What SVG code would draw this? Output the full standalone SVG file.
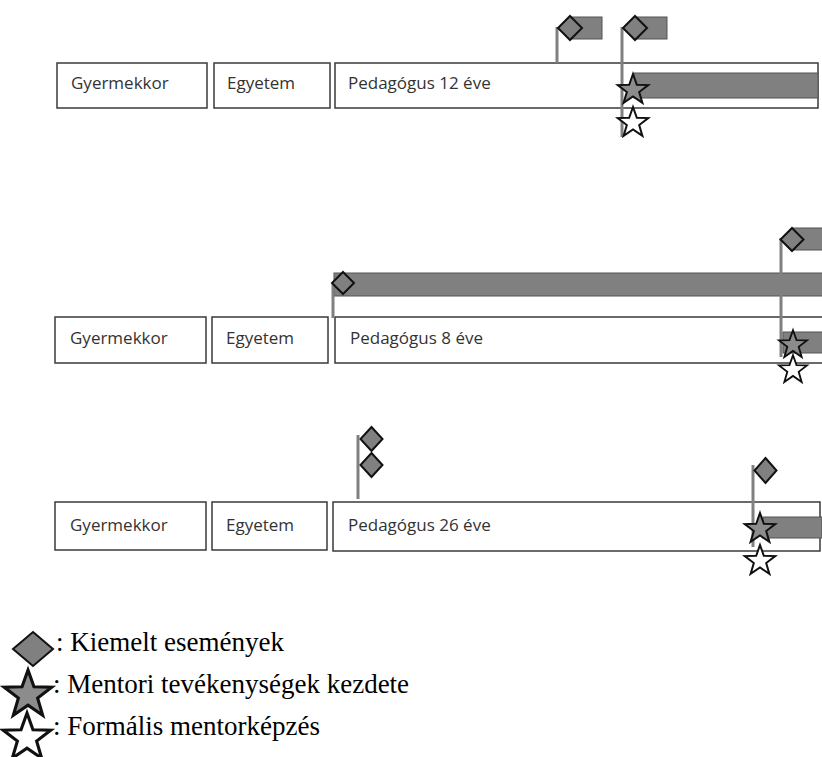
<svg xmlns="http://www.w3.org/2000/svg" width="822" height="757" viewBox="0 0 822 757">
<style>
.box{fill:#fff;stroke:#3a3a3a;stroke-width:1.5}
.lbl{font-family:"Open Sans","Liberation Sans",sans-serif;font-size:17px;fill:#333}
.pole{stroke:#808080;stroke-width:3;fill:none}
.bar{fill:#808080;stroke:#555;stroke-width:1}
.dia{fill:#808080;stroke:#111;stroke-width:2;stroke-linejoin:miter}
.sg{fill:#8c8c8c;stroke:#111;stroke-width:2;stroke-linejoin:miter}
.sw{fill:#fff;stroke:#111;stroke-width:2;stroke-linejoin:miter}
.leg{font-family:"Liberation Serif","Times New Roman",serif;font-size:27px;fill:#000}
</style>
<defs>
<path id="star" d="M0,-16 L3.82,-5.26 L15.22,-4.94 L6.18,2.01 L9.40,12.94 L0,6.5 L-9.40,12.94 L-6.18,2.01 L-15.22,-4.94 L-3.82,-5.26 Z"/>
</defs>

<g id="row1">
  <g id="r1-gyermekkor"><rect class="box" x="57" y="63" width="150" height="45"/><text class="lbl" x="71" y="89">Gyermekkor</text></g>
  <g id="r1-egyetem"><rect class="box" x="214" y="63" width="116" height="45"/><text class="lbl" x="227" y="89">Egyetem</text></g>
  <g id="r1-pedagogus"><rect class="box" x="335" y="63" width="483" height="45"/><text class="lbl" x="348" y="89">Pedagógus 12 éve</text></g>
  <rect class="bar" x="634" y="73" width="184" height="25"/>
  <line class="pole" x1="557" y1="27" x2="557" y2="63"/>
  <line class="pole" x1="622" y1="27" x2="622" y2="137"/>
  <rect class="bar" x="570" y="17" width="32" height="22"/>
  <rect class="bar" x="635" y="17" width="32" height="22"/>
  <path class="dia" d="M570,16 L582,28 L570,40 L558,28 Z"/>
  <path class="dia" d="M635,16 L647,28 L635,40 L623,28 Z"/>
  <use href="#star" class="sg" transform="translate(633,90)"/>
  <use href="#star" class="sw" transform="translate(633,123)"/>
</g>

<g id="row2">
  <g id="r2-gyermekkor"><rect class="box" x="55" y="317" width="151" height="46"/><text class="lbl" x="70" y="344">Gyermekkor</text></g>
  <g id="r2-egyetem"><rect class="box" x="212" y="317" width="116" height="46"/><text class="lbl" x="226" y="344">Egyetem</text></g>
  <g id="r2-pedagogus"><rect class="box" x="335" y="317" width="490" height="46"/><text class="lbl" x="350" y="344">Pedagógus 8 éve</text></g>
  <rect class="bar" x="334" y="273" width="492" height="23"/>
  <line class="pole" x1="333" y1="283" x2="333" y2="318"/>
  <line class="pole" x1="781" y1="238" x2="781" y2="357"/>
  <rect class="bar" x="792" y="228" width="34" height="22"/>
  <rect class="bar" x="783" y="332" width="43" height="21"/>
  <path class="dia" d="M343,272 L354,283 L343,294 L332,283 Z"/>
  <path class="dia" d="M792,228 L803.5,239.5 L792,251 L780.5,239.5 Z"/>
  <use href="#star" class="sg" transform="translate(793,345) scale(0.92)"/>
  <use href="#star" class="sw" transform="translate(793,370) scale(0.92)"/>
</g>

<g id="row3">
  <g id="r3-gyermekkor"><rect class="box" x="55" y="502" width="151" height="48"/><text class="lbl" x="70" y="531">Gyermekkor</text></g>
  <g id="r3-egyetem"><rect class="box" x="212" y="502" width="115" height="48"/><text class="lbl" x="226" y="531">Egyetem</text></g>
  <g id="r3-pedagogus"><rect class="box" x="333" y="502" width="487" height="49"/><text class="lbl" x="348" y="531">Pedagógus 26 éve</text></g>
  <line class="pole" x1="358" y1="435" x2="358" y2="499"/>
  <line class="pole" x1="753" y1="465" x2="753" y2="547"/>
  <rect class="bar" x="763" y="517" width="59" height="21"/>
  <path class="dia" d="M371.5,427 L382.5,439 L371.5,451 L360.5,439 Z"/>
  <path class="dia" d="M371.5,453 L382.5,465 L371.5,477 L360.5,465 Z"/>
  <path class="dia" d="M765.5,458 L776.5,470.5 L765.5,483 L754.5,470.5 Z"/>
  <use href="#star" class="sg" transform="translate(760,529)"/>
  <use href="#star" class="sw" transform="translate(760,561)"/>
</g>

<g id="legend">
  <path class="dia" d="M33,632 L53,649 L33,666 L13,649 Z"/>
  <text class="leg" x="56" y="651">: Kiemelt események</text>
  <use href="#star" class="sg" transform="translate(28,695) scale(1.56)"/>
  <text class="leg" x="53" y="693">: Mentori tevékenységek kezdete</text>
  <use href="#star" class="sw" transform="translate(27,738) scale(1.56)"/>
  <text class="leg" x="53" y="735">: Formális mentorképzés</text>
</g>
</svg>
